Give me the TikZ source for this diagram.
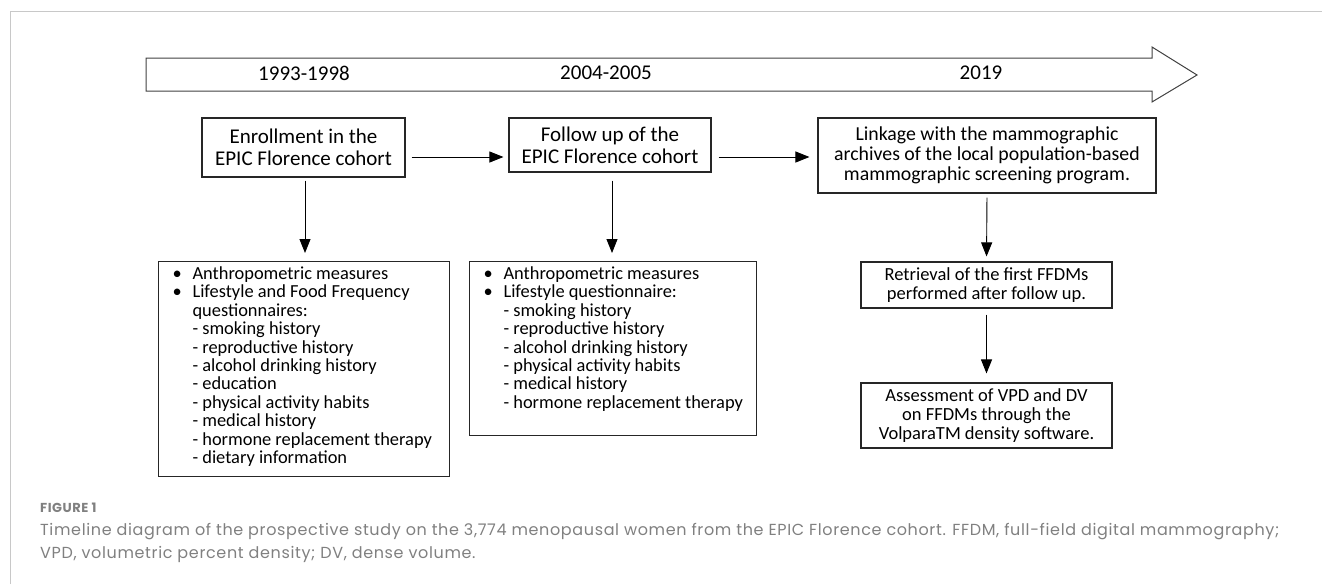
\documentclass[tikz,border=0pt]{standalone}
\usepackage{fontspec}
\setmainfont{Carlito}
\newfontfamily\capfont[LetterSpace=4]{Poppins}
\usepackage{tikz}
\usetikzlibrary{arrows.meta}

\definecolor{framegray}{HTML}{C8C8C8}
\definecolor{capgray}{HTML}{808080}

\newcommand{\bul}{\makebox[20pt][l]{\textbullet}}
\newcommand{\ind}{\hspace*{20pt}}

\begin{document}
\begin{tikzpicture}[x=1pt, y=-1pt, >={Triangle[length=14pt, width=11pt]},
  box/.style={draw=black!85, line width=1.1pt, fill=white, inner sep=0pt, align=center},
  headbox/.style={box, font=\fontsize{21}{22}\selectfont},
  stepbox/.style={box, font=\fontsize{18.5}{18.6}\selectfont, minimum width=251},
  listbox/.style={box, inner xsep=14pt, inner ysep=5pt, font=\fontsize{18.4}{18.4}\selectfont},
  year/.style={inner sep=0pt, font=\fontsize{21}{22}\selectfont},
  caption/.style={anchor=base west, inner sep=0pt, text=capgray},
  link/.style={->, line width=0.9pt}]
  \useasboundingbox (0,0) rectangle (1322,584);
  \draw[framegray, line width=1pt] (10,584) -- (10,11) -- (1322,11);
  \draw[black!75, line width=1pt] (146,58) -- (1152,58) -- (1152,47) -- (1197,75)
    -- (1152,102) -- (1152,91) -- (146,91) -- cycle;
  \node[year] (yrEnroll) at (304,73) {1993-1998};
  \node[year] (yrFollow) at (606,73) {2004-2005};
  \node[year] (yrLink) at (981,73) {2019};

  \node[headbox, minimum width=203, minimum height=59] (enroll) at (303.5,147.5) {Enrollment in the\\EPIC Florence cohort};
  \node[headbox, minimum width=202, minimum height=54] (follow) at (610,145) {Follow up of the\\EPIC Florence cohort};
  \node[box, font=\fontsize{19.8}{20}\selectfont, minimum width=338, minimum height=75] (linkage) at (987,155.5)
    {Linkage with the mammographic\\archives of the local population-based\\mammographic screening program.};
  \node[stepbox, minimum height=46] (retrieve) at (986.5,285) {Retrieval of the first FFDMs\\performed after follow up.};
  \node[stepbox, minimum height=65] (assess) at (986.5,415.5) {Assessment of VPD and DV\\ on FFDMs through the\\VolparaTM density software.};

  \node[listbox, anchor=north west] (enrollList) at (158,261) {\parbox[c][205pt][t]{263pt}{\begin{tabular}[t]{@{}l@{}}
    \bul Anthropometric measures\\
    \bul Lifestyle and Food Frequency\\
    \ind questionnaires:\\
    \ind - smoking history\\
    \ind - reproductive history\\
    \ind - alcohol drinking history\\
    \ind - education\\
    \ind - physical activity habits\\
    \ind - medical history\\
    \ind - hormone replacement therapy\\
    \ind - dietary information
  \end{tabular}}};
  \node[listbox, anchor=north west] (followList) at (469,261) {\parbox[c][164pt][t]{259pt}{\begin{tabular}[t]{@{}l@{}}
    \bul Anthropometric measures\\
    \bul Lifestyle questionnaire:\\
    \ind - smoking history\\
    \ind - reproductive history\\
    \ind - alcohol drinking history\\
    \ind - physical activity habits\\
    \ind - medical history\\
    \ind - hormone replacement therapy
  \end{tabular}}};

  \draw[link, shorten <=6pt, shorten >=5pt] ([yshift=-9.5pt]enroll.east) -- ([yshift=-9.5pt]enroll.east -| follow.west);
  \draw[link, shorten <=7pt, shorten >=8pt] ([yshift=-12pt]follow.east) -- ([yshift=-12pt]follow.east -| linkage.west);
  \draw[link, shorten <=3pt, shorten >=8pt] ([xshift=1.5pt]enroll.south) -- ([xshift=1.5pt]enroll.south |- enrollList.north);
  \draw[link, shorten <=8pt, shorten >=8pt] ([xshift=2pt]follow.south) -- ([xshift=2pt]follow.south |- followList.north);
  \draw[link, shorten <=4pt, shorten >=5pt] (linkage.south) -- (retrieve.north);
  \draw[link, shorten <=6pt, shorten >=9pt] (retrieve.south) -- (assess.north);

  \node[caption, font=\capfont\bfseries\fontsize{13}{14}\selectfont] (figLabel) at (40,512) {FIGURE 1};
  \node[caption, font=\capfont\fontsize{16}{23}\selectfont] (capLineA) at (40,535)
    {Timeline diagram of the prospective study on the 3,774 menopausal women from the EPIC Florence cohort. FFDM, full-field digital mammography;};
  \node[caption, font=\capfont\fontsize{16}{23}\selectfont] (capLineB) at (40,558)
    {VPD, volumetric percent density; DV, dense volume.};
\end{tikzpicture}
\end{document}
